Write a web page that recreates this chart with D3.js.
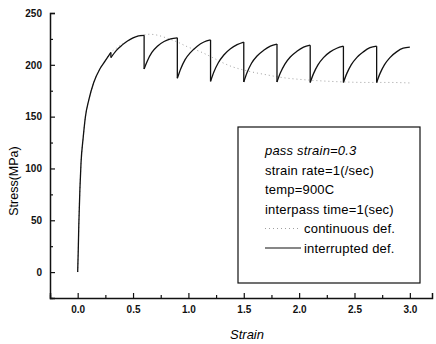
<!DOCTYPE html>
<html>
<head>
<meta charset="utf-8">
<script src="https://cdn.jsdelivr.net/npm/d3@7"></script>
<style>
  body { margin: 0; background: #fff; }
  svg { display: block; }
</style>
</head>
<body>
<div id="wrapper"></div>
<script>
// interrupted deformation (strain / stress), duplicate strain at each unloading drop
const interruptedStrain = [
  0, 0.005, 0.01, 0.02, 0.03, 0.05, 0.07, 0.1, 0.145, 0.2, 0.25, 0.3,
  0.3, 0.35, 0.4, 0.45, 0.5, 0.55, 0.6,
  0.6, 0.63, 0.67, 0.72, 0.78, 0.84, 0.9,
  0.9, 0.93, 0.97, 1.02, 1.08, 1.14, 1.2,
  1.2, 1.23, 1.27, 1.32, 1.38, 1.44, 1.5,
  1.5, 1.53, 1.57, 1.62, 1.68, 1.74, 1.8,
  1.8, 1.83, 1.87, 1.92, 1.98, 2.04, 2.1,
  2.1, 2.13, 2.17, 2.22, 2.28, 2.34, 2.4,
  2.4, 2.43, 2.47, 2.52, 2.58, 2.64, 2.7,
  2.7, 2.73, 2.77, 2.82, 2.88, 2.94, 3.0
];
const interruptedStress = [
  0, 20, 45, 80, 105, 130, 150, 166, 183, 196, 204, 212,
  207, 214, 219, 223, 226, 228, 228.5,
  196, 204, 212, 218, 222.5, 225, 226,
  187, 196, 205, 212, 218, 222, 224,
  184, 193, 202, 209.5, 215.5, 219.5, 222,
  183.5, 192.5, 201.5, 208.5, 214, 218, 220,
  183.5, 192, 200.5, 207.5, 213, 217, 219,
  183, 191.5, 200, 207, 212.5, 216, 218,
  183, 191.5, 200, 207, 212.5, 216.5, 218,
  183, 191.5, 200, 207, 212.5, 216, 217
];

// continuous deformation
const continuousStrain = [
  0, 0.005, 0.01, 0.02, 0.03, 0.05, 0.07, 0.1, 0.145, 0.2, 0.25, 0.3,
  0.35, 0.4, 0.45, 0.5, 0.55, 0.6, 0.65, 0.7, 0.8, 0.9, 1.0, 1.1, 1.2,
  1.3, 1.4, 1.5, 1.6, 1.7, 1.8, 1.9, 2.0, 2.2, 2.4, 2.6, 2.8, 3.0
];
const continuousStress = [
  0, 20, 45, 80, 105, 130, 150, 166, 183, 196, 204, 212,
  216, 220, 223, 226, 228, 229, 229.5, 229, 226, 222, 217, 213, 208,
  202.5, 198, 195, 192.5, 190.5, 188.5, 187, 186, 184.5, 183.5, 183, 183, 182.5
];

const xMajorTicks = [0, 0.5, 1.0, 1.5, 2.0, 2.5, 3.0];
const xMinorTicks = [-0.25, 0.25, 0.75, 1.25, 1.75, 2.25, 2.75];
const yMajorTicks = [0, 50, 100, 150, 200, 250];
const yMinorTicks = [-25, 25, 75, 125, 175, 225];

const legendLines = [
  { text: 'pass strain=0.3', italic: true },
  { text: 'strain rate=1(/sec)' },
  { text: 'temp=900C' },
  { text: 'interpass time=1(sec)' }
];

const FONT = '"Liberation Sans", Arial, sans-serif';

function drawChart() {
  const dimensions = {
    width: 436,
    height: 344,
    margin: { top: 13, right: 4, bottom: 46, left: 50 }
  };
  dimensions.boundedWidth = dimensions.width - dimensions.margin.left - dimensions.margin.right;
  dimensions.boundedHeight = dimensions.height - dimensions.margin.top - dimensions.margin.bottom;

  const wrapper = d3.select('#wrapper')
    .append('svg')
    .attr('width', dimensions.width)
    .attr('height', dimensions.height);

  const bounds = wrapper.append('g')
    .attr('transform', `translate(${dimensions.margin.left},${dimensions.margin.top})`);

  const xScale = d3.scaleLinear()
    .domain([-0.25, 3.2])
    .range([0, dimensions.boundedWidth]);
  const yScale = d3.scaleLinear()
    .domain([-25, 250])
    .range([dimensions.boundedHeight, 0]);

  const interrupted = interruptedStrain.map((s, i) => [s, interruptedStress[i]]);
  const continuous = continuousStrain.map((s, i) => [s, continuousStress[i]]);

  const lineGenerator = d3.line()
    .x(d => xScale(d[0]))
    .y(d => yScale(d[1]))
    .curve(d3.curveMonotoneX);
  const straight = d3.line()
    .x(d => xScale(d[0]))
    .y(d => yScale(d[1]));

  // monotone curve can't handle the vertical drops, so split at each unloading
  const segments = [];
  const drops = [];
  let current = [];
  interrupted.forEach((d, i) => {
    if (i > 0 && d[0] === interrupted[i - 1][0]) {
      segments.push(current);
      drops.push([interrupted[i - 1], d]);
      current = [];
    }
    current.push(d);
  });
  segments.push(current);

  bounds.append('path')
    .attr('d', lineGenerator(continuous))
    .attr('fill', 'none')
    .attr('stroke', '#a0a0a0')
    .attr('stroke-width', 1)
    .attr('stroke-dasharray', '1,3');

  segments.forEach(seg => {
    bounds.append('path')
      .attr('d', lineGenerator(seg))
      .attr('fill', 'none')
      .attr('stroke', '#111')
      .attr('stroke-width', 1.3);
  });
  drops.forEach(dr => {
    bounds.append('path')
      .attr('d', straight(dr))
      .attr('fill', 'none')
      .attr('stroke', '#111')
      .attr('stroke-width', 1.3);
  });

  // axes: ticks point inward
  const xAxis = bounds.append('g')
    .attr('transform', `translate(0,${dimensions.boundedHeight})`)
    .call(d3.axisBottom(xScale).tickValues(xMajorTicks).tickFormat(d3.format('.1f')).tickSize(-5).tickPadding(8));
  bounds.append('g')
    .attr('transform', `translate(0,${dimensions.boundedHeight})`)
    .call(d3.axisBottom(xScale).tickValues(xMinorTicks).tickFormat('').tickSize(-3))
    .call(g => g.select('.domain').remove());

  const yAxis = bounds.append('g')
    .call(d3.axisLeft(yScale).tickValues(yMajorTicks).tickSize(-5).tickPadding(8));
  bounds.append('g')
    .call(d3.axisLeft(yScale).tickValues(yMinorTicks).tickFormat('').tickSize(-3))
    .call(g => g.select('.domain').remove());

  [xAxis, yAxis].forEach(ax => {
    ax.select('.domain').attr('stroke', '#111').attr('stroke-width', 1.5);
  });
  bounds.selectAll('.tick line').attr('stroke', '#111').attr('stroke-width', 1.2);
  bounds.selectAll('.tick text')
    .attr('fill', '#111')
    .style('font-family', FONT)
    .style('font-size', '10px')
    .style('font-weight', 'bold');

  // axis titles
  wrapper.append('text')
    .attr('x', 247)
    .attr('y', 339)
    .attr('text-anchor', 'middle')
    .style('font-family', FONT)
    .style('font-size', '13px')
    .style('font-style', 'italic')
    .text('Strain');

  wrapper.append('text')
    .attr('transform', 'translate(18,181) rotate(-90)')
    .attr('text-anchor', 'middle')
    .style('font-family', FONT)
    .style('font-size', '12.5px')
    .text('Stress(MPa)');

  // legend box
  const legend = wrapper.append('g').attr('transform', 'translate(238,127)');
  legend.append('rect')
    .attr('width', 182)
    .attr('height', 156)
    .attr('fill', '#fff')
    .attr('stroke', '#111')
    .attr('stroke-width', 1.2);

  const rowY = i => 28 + i * 19.5;
  const textStyle = sel => sel
    .style('font-family', FONT)
    .style('font-size', '13px')
    .style('letter-spacing', '0.2px');

  legendLines.forEach((l, i) => {
    legend.append('text')
      .attr('x', 27)
      .attr('y', rowY(i))
      .call(textStyle)
      .style('font-style', l.italic ? 'italic' : 'normal')
      .text(l.text);
  });

  const seriesLegend = [
    { label: 'continuous def.', stroke: '#a0a0a0', dash: '1,3', width: 1 },
    { label: 'interrupted def.', stroke: '#111', dash: null, width: 1.2 }
  ];
  seriesLegend.forEach((s, i) => {
    const y = rowY(4 + i);
    legend.append('line')
      .attr('x1', 27).attr('x2', 63)
      .attr('y1', y - 4.5).attr('y2', y - 4.5)
      .attr('stroke', s.stroke)
      .attr('stroke-width', s.width)
      .attr('stroke-dasharray', s.dash);
    legend.append('text')
      .attr('x', 66)
      .attr('y', y)
      .call(textStyle)
      .text(s.label);
  });
}

drawChart();
</script>
</body>
</html>
